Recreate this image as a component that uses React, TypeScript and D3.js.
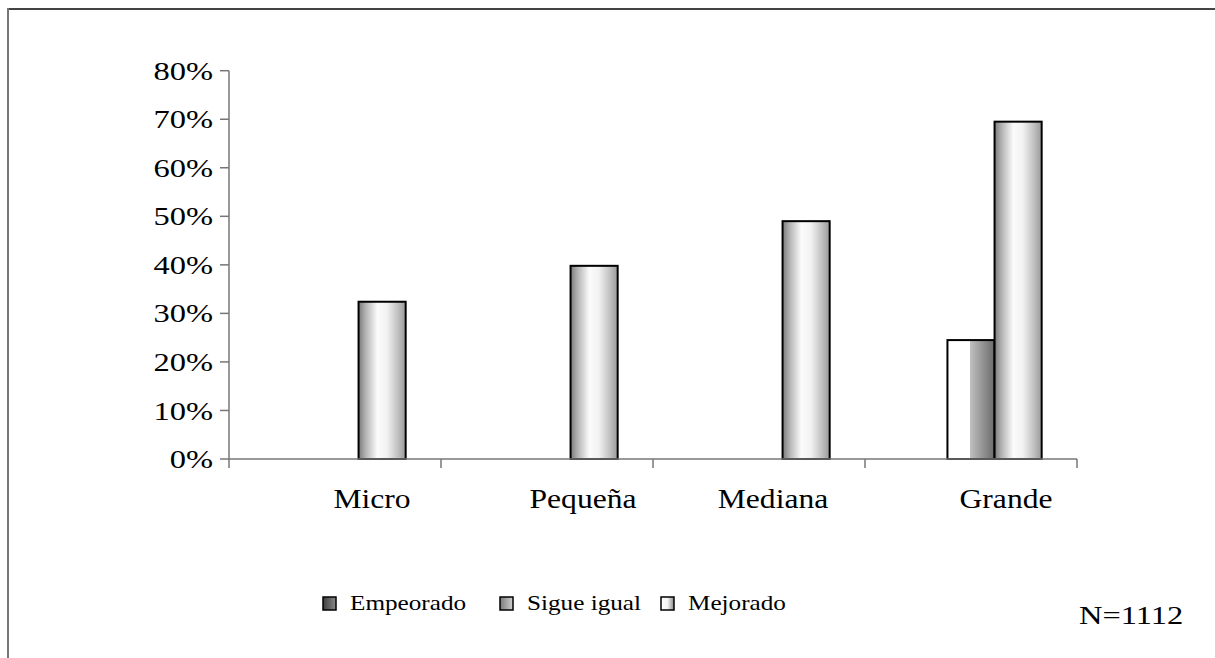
import React from "react";
import * as d3 from "d3";

const categories = ["Micro", "Pequeña", "Mediana", "Grande"];
const seriesNames = ["Empeorado", "Sigue igual", "Mejorado"];
const empeorado = [0, 0, 0, 0];
const sigueIgual = [0, 0, 0, 0.245];
const mejorado = [0.324, 0.398, 0.49, 0.695];
const yTicks = [0, 0.1, 0.2, 0.3, 0.4, 0.5, 0.6, 0.7, 0.8];
const note = "N=1112";

const seriesValues = [empeorado, sigueIgual, mejorado];
const fills = ["url(#gEmp)", "url(#gSig)", "url(#gMej)"];
const swatchFills = ["url(#sEmp)", "url(#sSig)", "url(#sMej)"];
const labelDx = [37, 36, 14, 35];

export default function App() {
  const W = 1215, H = 658;
  const x0 = d3.scaleBand<string>().domain(categories).range([229, 1077]).paddingInner(0).paddingOuter(0);
  const x1 = d3.scaleBand<string>().domain(seriesNames).range([0, x0.bandwidth()]).paddingInner(0).paddingOuter(0.75);
  const y = d3.scaleLinear().domain([0, 0.8]).range([459, 70.7]);
  const font = "'Liberation Serif', 'Times New Roman', serif";
  const legendX = [323, 500, 661];
  const sx = 1.2;

  return (
    <svg width={W} height={H} style={{ position: "absolute", left: 0, top: 0, background: "#fff" }}>
      <defs>
        <linearGradient id="gMej" x1="0" x2="1" y1="0" y2="0">
          <stop offset="0" stopColor="#7a7a7a" />
          <stop offset="0.15" stopColor="#b3b3b3" />
          <stop offset="0.4" stopColor="#fbfbfb" />
          <stop offset="0.6" stopColor="#f2f2f2" />
          <stop offset="0.82" stopColor="#c4c4c4" />
          <stop offset="1" stopColor="#9a9a9a" />
        </linearGradient>
        <linearGradient id="gSig" x1="0" x2="1" y1="0" y2="0">
          <stop offset="0" stopColor="#ffffff" />
          <stop offset="0.47" stopColor="#ffffff" />
          <stop offset="0.47" stopColor="#c2c2c2" />
          <stop offset="1" stopColor="#6a6a6a" />
        </linearGradient>
        <linearGradient id="gEmp" x1="0" x2="1" y1="0" y2="0">
          <stop offset="0" stopColor="#444" />
          <stop offset="1" stopColor="#888" />
        </linearGradient>
        <linearGradient id="sEmp" x1="0" x2="1" y1="0" y2="0">
          <stop offset="0" stopColor="#3e3e3e" />
          <stop offset="1" stopColor="#8a8a8a" />
        </linearGradient>
        <linearGradient id="sSig" x1="0" x2="1" y1="0" y2="0">
          <stop offset="0" stopColor="#7a7a7a" />
          <stop offset="1" stopColor="#d0d0d0" />
        </linearGradient>
        <linearGradient id="sMej" x1="0" x2="1" y1="0" y2="0">
          <stop offset="0" stopColor="#ffffff" />
          <stop offset="0.5" stopColor="#f4f4f4" />
          <stop offset="1" stopColor="#8a8a8a" />
        </linearGradient>
      </defs>

      {/* frame */}
      <line x1={8} x2={W} y1={9} y2={9} stroke="#444" strokeWidth={2} />
      <line x1={8} x2={8} y1={8} y2={H} stroke="#777" strokeWidth={2} />

      {/* bars */}
      {categories.map((c, ci) =>
        seriesNames.map((s, si) => {
          const v = seriesValues[si][ci];
          if (!v) return null;
          const bx = (x0(c) as number) + (x1(s) as number);
          return (
            <rect key={c + s} x={bx} y={y(v)} width={x1.bandwidth()} height={y(0) - y(v)}
              fill={fills[si]} stroke="#000" strokeWidth={2} />
          );
        })
      )}

      {/* y axis */}
      <line x1={229} x2={229} y1={y(0.8)} y2={y(0)} stroke="#777" strokeWidth={1.5} />
      {yTicks.map((t) => (
        <g key={t}>
          <line x1={220} x2={229} y1={y(t)} y2={y(t)} stroke="#777" strokeWidth={1.5} />
          <g transform={`translate(213,${y(t)}) scale(${sx + 0.05},1)`}>
            <text x={0} y={0} dy="0.35em" textAnchor="end" fontFamily={font} fontSize={26} fill="#000">
              {d3.format(".0%")(t)}
            </text>
          </g>
        </g>
      ))}

      {/* x axis */}
      <line x1={229} x2={1077} y1={y(0)} y2={y(0)} stroke="#777" strokeWidth={1.5} />
      {[...categories.map((c) => x0(c) as number), 1077].map((xv, i) => (
        <line key={i} x1={xv} x2={xv} y1={y(0)} y2={y(0) + 9} stroke="#777" strokeWidth={1.5} />
      ))}
      {categories.map((c, i) => (
        <g key={c} transform={`translate(${(x0(c) as number) + x0.bandwidth() / 2 + labelDx[i]},508) scale(${sx - 0.03},1)`}>
          <text x={0} y={0} textAnchor="middle" fontFamily={font} fontSize={27} fill="#000">
            {c}
          </text>
        </g>
      ))}

      {/* legend */}
      {seriesNames.map((s, i) => (
        <g key={s}>
          <rect x={legendX[i]} y={597} width={13} height={13} fill={swatchFills[i]} stroke="#000" strokeWidth={1.5} />
          <g transform={`translate(${legendX[i] + 27},610) scale(${sx},1)`}>
            <text x={0} y={0} fontFamily={font} fontSize={21} fill="#000">{s}</text>
          </g>
        </g>
      ))}

      <g transform={`translate(1079,624) scale(${sx + 0.05},1)`}>
        <text x={0} y={0} fontFamily={font} fontSize={26} fill="#000">{note}</text>
      </g>
    </svg>
  );
}
